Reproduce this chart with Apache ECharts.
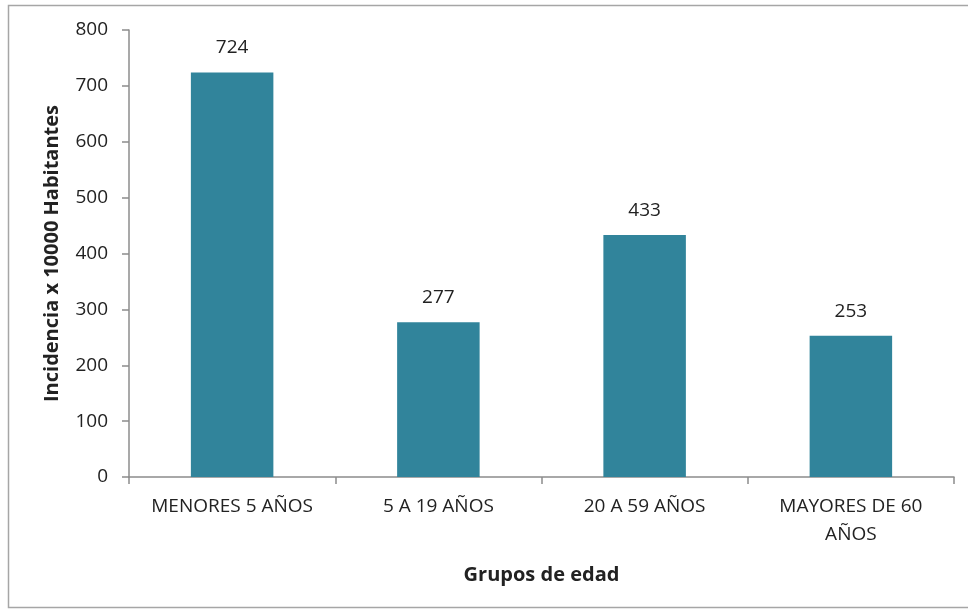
<!DOCTYPE html>
<html>
<head>
<meta charset="utf-8">
<script src="https://cdn.jsdelivr.net/npm/echarts@6/dist/echarts.min.js"></script>
<style>
  html, body { margin: 0; padding: 0; background: #fff; }
  #chart { width: 968px; height: 615px; }
</style>
</head>
<body>
<div id="chart"></div>
<script>
// Age groups and incidence per 10000 inhabitants
const categories = ['MENORES 5 AÑOS', '5 A 19 AÑOS', '20 A 59 AÑOS', 'MAYORES DE 60\nAÑOS'];
const incidence = [724, 277, 433, 253];

const yTitle = 'Incidencia x 10000 Habitantes';
const xTitle = 'Grupos de edad';

const FONT = '"Open Sans", sans-serif';
const AXIS_COLOR = '#8c8c8c';
const TEXT_COLOR = '#222';

const chart = echarts.init(document.getElementById('chart'), null, { renderer: 'canvas' });

chart.setOption({
  animation: false,
  backgroundColor: '#fff',
  graphic: [{
    type: 'rect',
    shape: { x: 8.5, y: 5.5, width: 980, height: 602 },
    style: { fill: 'none', stroke: '#a6a6a6', lineWidth: 1.5 },
    silent: true
  }],
  grid: { left: 129, top: 30, right: 14, bottom: 138 },
  xAxis: {
    type: 'category',
    data: categories,
    name: xTitle,
    nameLocation: 'middle',
    nameGap: 88,
    nameTextStyle: { fontFamily: FONT, fontSize: 20, fontWeight: 'bold', color: TEXT_COLOR },
    axisLine: { lineStyle: { color: AXIS_COLOR, width: 1.5 } },
    axisTick: { show: true, length: 7, alignWithLabel: false, lineStyle: { color: AXIS_COLOR, width: 1.5 } },
    axisLabel: { fontFamily: FONT, fontSize: 19, color: TEXT_COLOR, margin: 16, lineHeight: 28, interval: 0 }
  },
  yAxis: {
    type: 'value',
    min: 0,
    max: 800,
    interval: 100,
    name: yTitle,
    nameLocation: 'middle',
    nameGap: 67,
    nameTextStyle: { fontFamily: FONT, fontSize: 20, fontWeight: 'bold', color: TEXT_COLOR },
    splitLine: { show: false },
    axisLine: { show: true, lineStyle: { color: AXIS_COLOR, width: 1.5 } },
    axisTick: { show: true, length: 7, lineStyle: { color: AXIS_COLOR, width: 1.5 } },
    axisLabel: { fontFamily: FONT, fontSize: 19, color: TEXT_COLOR, margin: 21 }
  },
  series: [{
    type: 'bar',
    data: incidence,
    barWidth: '40%',
    itemStyle: { color: '#31849b' },
    label: {
      show: true,
      position: 'top',
      distance: 15,
      fontFamily: FONT,
      fontSize: 19,
      color: TEXT_COLOR
    }
  }]
});
</script>
</body>
</html>
